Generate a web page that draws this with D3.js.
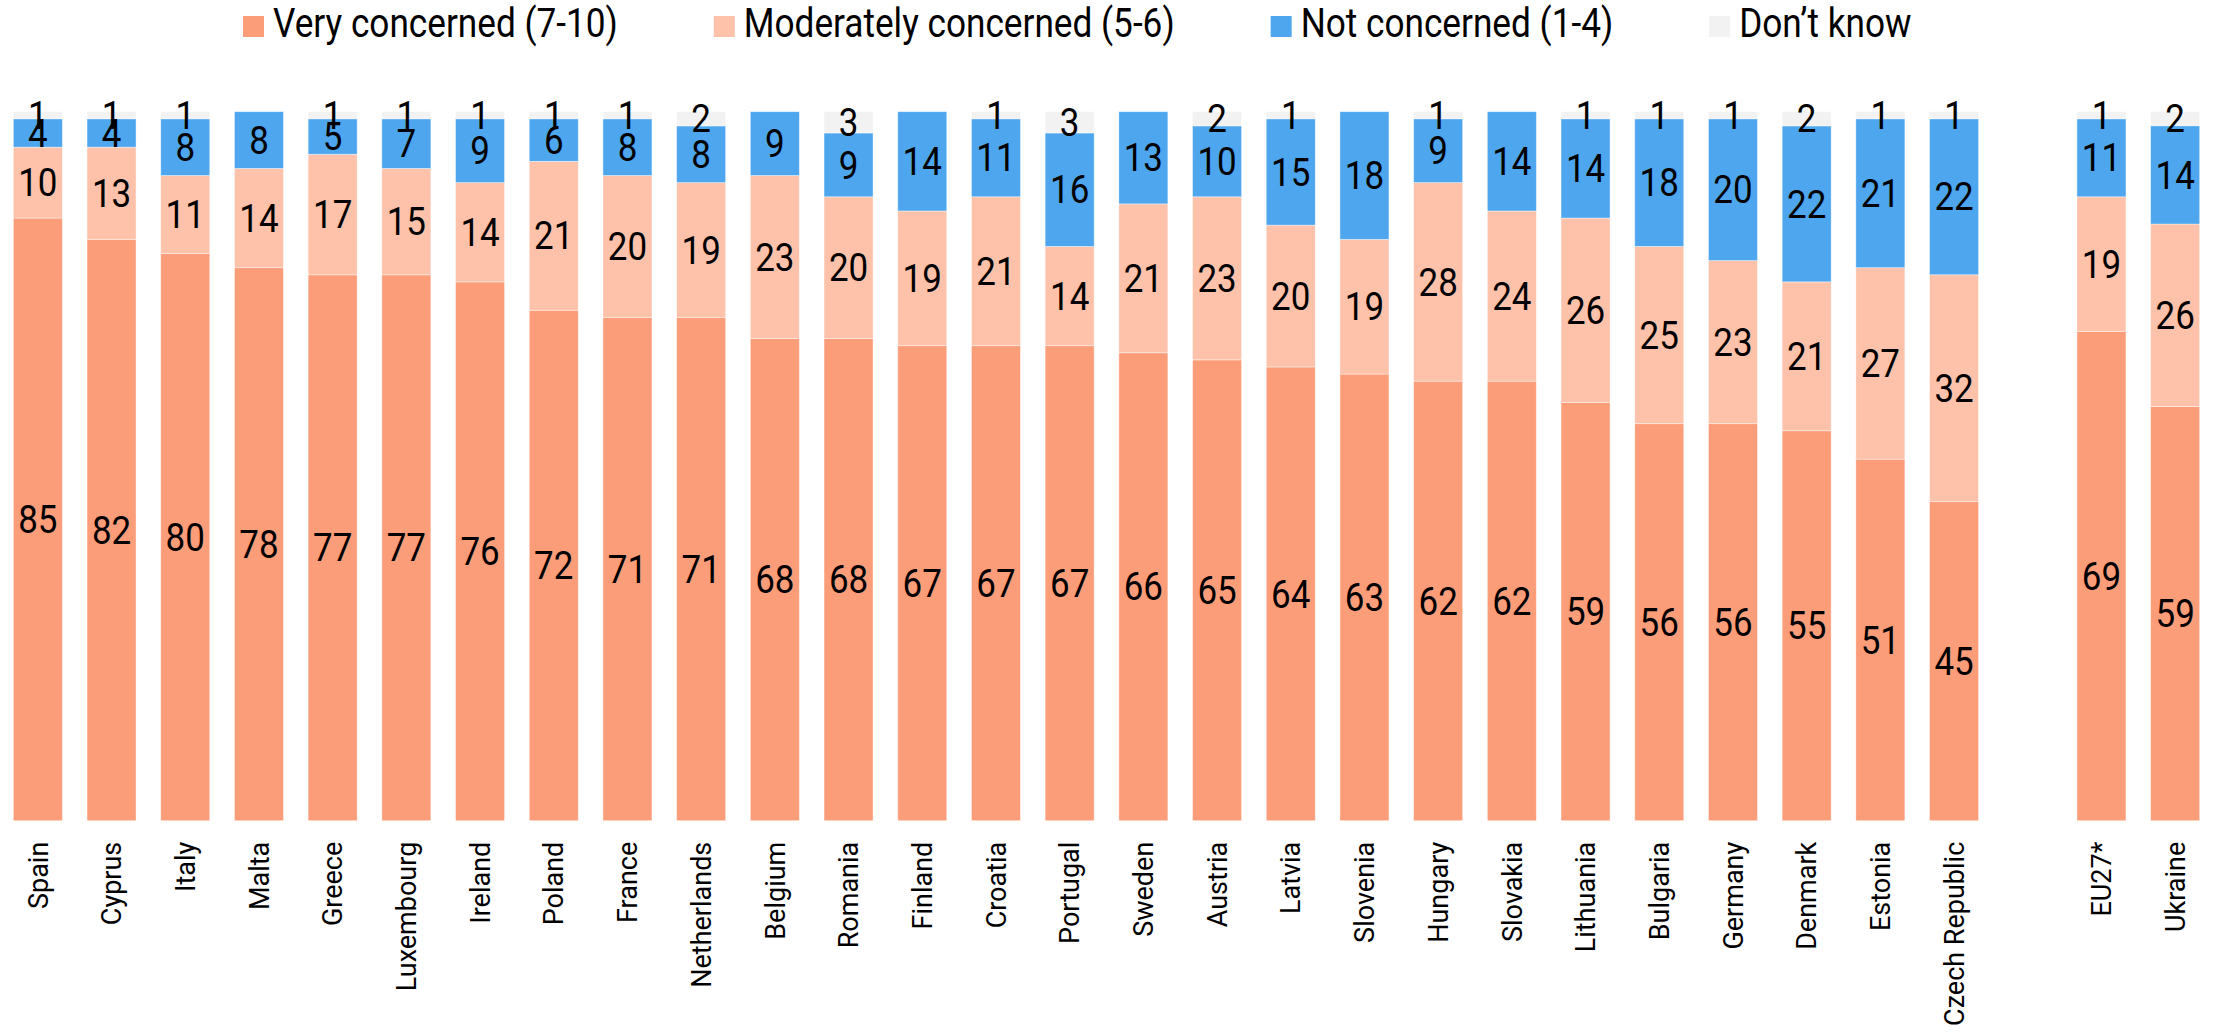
<!DOCTYPE html>
<html><head><meta charset="utf-8">
<script src="https://cdn.jsdelivr.net/npm/d3@7"></script>
<style>body{margin:0;background:#fff} svg{display:block}</style>
</head><body><svg id="c" width="2216" height="1034"></svg>
<script>
const countries = ["Spain","Cyprus","Italy","Malta","Greece","Luxembourg","Ireland","Poland","France","Netherlands","Belgium","Romania","Finland","Croatia","Portugal","Sweden","Austria","Latvia","Slovenia","Hungary","Slovakia","Lithuania","Bulgaria","Germany","Denmark","Estonia","Czech Republic"];
const aggregates = ["EU27*","Ukraine"];
const veryConcerned       = [85,82,80,78,77,77,76,72,71,71,68,68,67,67,67,66,65,64,63,62,62,59,56,56,55,51,45, 69,59];
const moderatelyConcerned = [10,13,11,14,17,15,14,21,20,19,23,20,19,21,14,21,23,20,19,28,24,26,25,23,21,27,32, 19,26];
const notConcerned        = [4,4,8,8,5,7,9,6,8,8,9,9,14,11,16,13,10,15,18,9,14,14,18,20,22,21,22, 11,14];
const dontKnow            = [1,1,1,0,1,1,1,1,1,2,0,3,0,1,3,0,2,1,0,1,0,1,1,1,2,1,1, 1,2];
const seriesNames = ["Very concerned (7-10)","Moderately concerned (5-6)","Not concerned (1-4)","Don\u2019t know"];
const seriesColors = ["#FC9D7A","#FEC2AA","#4DA6EE","#F2F2F2"];

const keys = ["v","m","n","d"];
const GAP = "__gap__";
const cats = countries.concat(aggregates);
const rows = cats.map((c,i)=>({cat:c, v:veryConcerned[i], m:moderatelyConcerned[i], n:notConcerned[i], d:dontKnow[i]}));

const svg = d3.select("#c");
const plotTop = 111.7, plotBottom = 820.7;
const x = d3.scaleBand().domain(countries.concat([GAP], aggregates)).range([1, 2212]).paddingInner(0.335).paddingOuter(0.1675);
const y = d3.scaleLinear().domain([0,1]).range([plotBottom, plotTop]);
const color = d3.scaleOrdinal().domain(keys).range(seriesColors);

const stack = d3.stack().keys(keys).offset(d3.stackOffsetExpand);
const layers = stack(rows);

const valFont = "Roboto, 'Noto Sans', sans-serif";
const sx = 0.92;

const gBars = svg.append("g");
gBars.selectAll("g").data(layers).join("g")
  .attr("fill", d=>color(d.key))
  .selectAll("rect").data(d=>d.filter(e=>e[1]-e[0]>0)).join("rect")
  .attr("x", d=>x(d.data.cat))
  .attr("width", x.bandwidth())
  .attr("y", d=>y(d[1]))
  .attr("height", d=>y(d[0])-y(d[1]))
  .attr("stroke","#fff").attr("stroke-width",0.8).attr("stroke-opacity",0.5);

const gLab = svg.append("g");
layers.forEach(layer=>{
  layer.forEach(d=>{
    const val = d.data[layer.key];
    if (!val) return;
    const cx = x(d.data.cat) + x.bandwidth()/2;
    const cy = (y(d[0])+y(d[1]))/2;
    gLab.append("text")
      .attr("transform", `translate(${cx},${cy}) scale(${sx},1)`)
      .attr("text-anchor","middle").attr("dy","0.36em")
      .style("font-family", valFont).style("font-size","38px").attr("fill","#000")
      .text(val);
  });
});

// x axis labels
const ax = svg.append("g").attr("transform", `translate(0,${plotBottom+21})`)
  .call(d3.axisBottom(x).tickSize(0).tickPadding(0).tickFormat(d=> d===GAP ? "" : d));
ax.select(".domain").remove();
ax.selectAll("text")
  .attr("transform","rotate(-90)").attr("x",0).attr("y",0).attr("dy","0.36em")
  .style("text-anchor","end")
  .style("font-family","Roboto, sans-serif").style("font-size","27px").attr("fill","#000");

// legend
const leg = svg.append("g");
let lx = 243;
seriesNames.forEach((name,i)=>{
  leg.append("rect").attr("x", lx).attr("y", 16).attr("width", 21).attr("height", 21).attr("fill", seriesColors[i]);
  const t = leg.append("text")
    .attr("transform", `translate(${lx+30},37) scale(0.88,1)`)
    .style("font-family", valFont).style("font-size","40px").attr("fill","#000")
    .text(name);
  const w = t.node().getComputedTextLength()*0.88;
  lx = lx + 30 + w + 96;
});
</script></body></html>
